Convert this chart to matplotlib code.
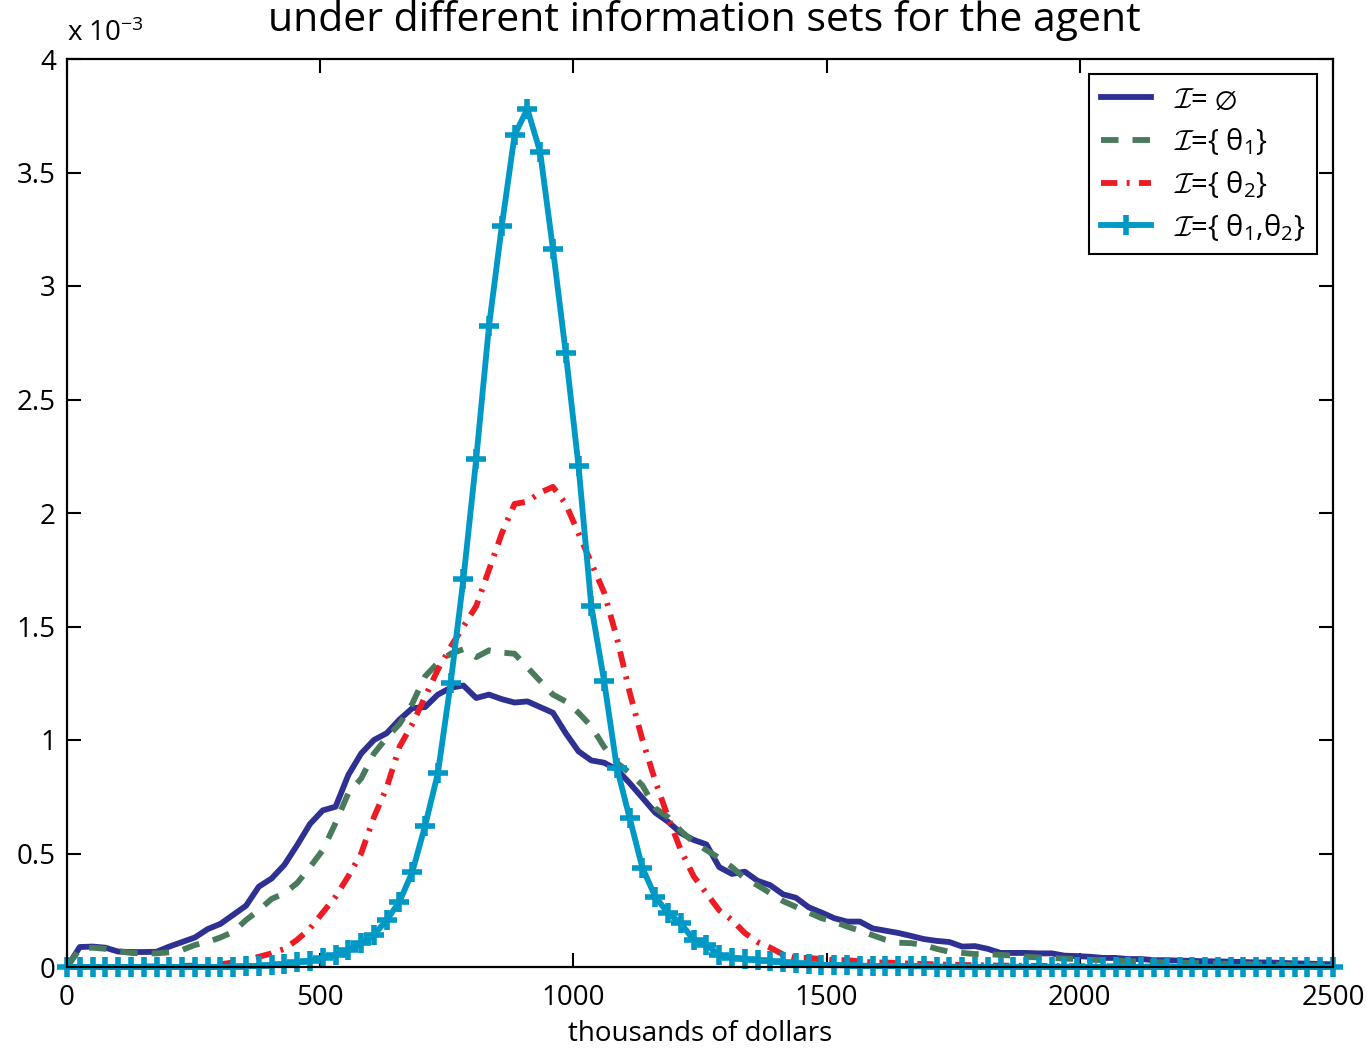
import numpy as np
import matplotlib
matplotlib.use("Agg")
from matplotlib import pyplot as plt

plt.rcParams['font.family'] = ['Open Sans', 'DejaVu Sans']
plt.rcParams['mathtext.fontset'] = 'custom'
plt.rcParams['mathtext.rm'] = 'Open Sans'
plt.rcParams['mathtext.it'] = 'Open Sans:italic'
plt.rcParams['mathtext.cal'] = 'cmsy10'
plt.rcParams['mathtext.fallback'] = 'stix'

# wealth grid (thousands of dollars), 100 points from 0 to 2500
x = np.linspace(0, 2500, 100)

# densities, in units of 1e-3
dens_none = [
    0.0, 0.088, 0.09, 0.085, 0.068, 0.066, 0.066, 0.067, 0.09, 0.11,
    0.13, 0.167, 0.19, 0.23, 0.27, 0.354, 0.39, 0.45, 0.537, 0.63,
    0.69, 0.706, 0.846, 0.94, 1.0, 1.03, 1.09, 1.14, 1.145, 1.2,
    1.23, 1.24, 1.185, 1.2, 1.18, 1.165, 1.17, 1.145, 1.12, 1.03,
    0.95, 0.91, 0.9, 0.87, 0.81, 0.745, 0.68, 0.64, 0.59, 0.56,
    0.54, 0.44, 0.41, 0.42, 0.38, 0.36, 0.32, 0.305, 0.263, 0.24,
    0.215, 0.2, 0.2, 0.17, 0.16, 0.15, 0.137, 0.123, 0.115, 0.11,
    0.09, 0.092, 0.08, 0.062, 0.062, 0.062, 0.06, 0.06, 0.05, 0.048,
    0.045, 0.04, 0.04, 0.035, 0.035, 0.03, 0.03, 0.028, 0.027, 0.025,
    0.025, 0.023, 0.022, 0.02, 0.02, 0.018, 0.016, 0.015, 0.013, 0.012,
]
dens_th1 = [
    0.0, 0.08, 0.085, 0.08, 0.07, 0.062, 0.06, 0.06, 0.065, 0.075,
    0.097, 0.11, 0.13, 0.155, 0.207, 0.25, 0.3, 0.325, 0.37, 0.44,
    0.515, 0.634, 0.766, 0.83, 0.94, 1.01, 1.07, 1.16, 1.28, 1.34,
    1.38, 1.4, 1.365, 1.395, 1.385, 1.38, 1.32, 1.26, 1.2, 1.17,
    1.12, 1.06, 0.97, 0.9, 0.855, 0.8, 0.7, 0.66, 0.6, 0.55,
    0.515, 0.48, 0.44, 0.39, 0.36, 0.325, 0.29, 0.265, 0.24, 0.215,
    0.2, 0.178, 0.16, 0.14, 0.12, 0.107, 0.105, 0.097, 0.08, 0.067,
    0.062, 0.057, 0.057, 0.053, 0.05, 0.045, 0.042, 0.04, 0.037, 0.035,
    0.032, 0.03, 0.028, 0.026, 0.024, 0.022, 0.02, 0.019, 0.018, 0.016,
    0.015, 0.014, 0.013, 0.012, 0.011, 0.01, 0.009, 0.008, 0.008, 0.007,
]
dens_th2 = [
    0.0, 0.0, 0.0, 0.0, 0.0, 0.0, 0.002, 0.003, 0.004, 0.005,
    0.006, 0.008, 0.012, 0.02, 0.03, 0.045, 0.06, 0.08, 0.12, 0.17,
    0.24, 0.31, 0.4, 0.5, 0.66, 0.79, 0.97, 1.07, 1.19, 1.31,
    1.41, 1.5, 1.59, 1.75, 1.91, 2.04, 2.05, 2.09, 2.115, 2.04,
    1.91, 1.78, 1.65, 1.45, 1.21, 1.0, 0.82, 0.66, 0.515, 0.4,
    0.325, 0.25, 0.207, 0.15, 0.11, 0.085, 0.055, 0.04, 0.04, 0.035,
    0.03, 0.03, 0.025, 0.02, 0.02, 0.017, 0.015, 0.013, 0.012, 0.01,
    0.009, 0.008, 0.007, 0.006, 0.006, 0.005, 0.005, 0.004, 0.004, 0.003,
    0.003, 0.003, 0.003, 0.002, 0.002, 0.002, 0.002, 0.002, 0.001, 0.001,
    0.001, 0.001, 0.001, 0.001, 0.0, 0.0, 0.0, 0.0, 0.0, 0.0,
]
dens_both = [
    0.0, 0.0, 0.0, 0.0, 0.0, 0.0, 0.0, 0.0, 0.0, 0.0,
    0.0, 0.0, 0.0, 0.0, 0.003, 0.005, 0.008, 0.013, 0.02, 0.028,
    0.04, 0.053, 0.075, 0.106, 0.141, 0.207, 0.288, 0.418, 0.622, 0.853,
    1.25, 1.71, 2.238, 2.824, 3.264, 3.665, 3.78, 3.59, 3.163, 2.706,
    2.207, 1.59, 1.26, 0.877, 0.656, 0.436, 0.31, 0.237, 0.193, 0.119,
    0.097, 0.053, 0.04, 0.035, 0.03, 0.025, 0.02, 0.016, 0.013, 0.01,
    0.008, 0.007, 0.006, 0.005, 0.004, 0.004, 0.003, 0.003, 0.002, 0.002,
    0.001, 0.001, 0.001, 0.001, 0.001, 0.001, 0.001, 0.001, 0.001, 0.001,
    0.0, 0.0, 0.0, 0.0, 0.0, 0.0, 0.0, 0.0, 0.0, 0.0,
    0.0, 0.0, 0.0, 0.0, 0.0, 0.0, 0.0, 0.0, 0.0, 0.0,
]

labels = [
    r'$\mathcal{I}$= $\emptyset$',
    r'$\mathcal{I}$={ $\mathrm{\theta}_1$}',
    r'$\mathcal{I}$={ $\mathrm{\theta}_2$}',
    r'$\mathcal{I}$={ $\mathrm{\theta}_1$,$\mathrm{\theta}_2$}',
]

fig = plt.figure(figsize=(13.7, 10.5), dpi=100)
ax = fig.add_axes([67 / 1370, 83 / 1050, 1266 / 1370, 908 / 1050])

lw = 4.2
ax.plot(x, dens_none, color='#2e3192', lw=lw, label=labels[0])
ax.plot(x, dens_th1, color='#4a7a5c', lw=lw, dashes=(3.0, 2.4), label=labels[1])
ax.plot(x, dens_th2, color='#ed1c24', lw=lw, dashes=(2.8, 1.6, 0.5, 1.6), label=labels[2])
ax.plot(x, dens_both, color='#0099c6', lw=lw, marker='+', ms=14, mew=4,
        clip_on=False, label=labels[3])

ax.set_xlim(0, 2500)
ax.set_ylim(0, 4)
ax.set_xticks([0, 500, 1000, 1500, 2000, 2500])
ax.set_yticks(np.arange(0, 4.01, 0.5))
ax.set_yticklabels(['%g' % v for v in np.arange(0, 4.01, 0.5)])
ax.tick_params(direction='in', length=10, width=1.5, labelsize=20,
               top=True, right=True, pad=8)
ax.tick_params(axis='x', pad=12)
for sp in ax.spines.values():
    sp.set_linewidth(1.6)

ax.text(0, 1.012, r'x 10$^{\mathrm{-3}}$', transform=ax.transAxes,
        fontsize=20, ha='left', va='bottom')
ax.set_xlabel('thousands of dollars', fontsize=20, labelpad=6)
fig.text(0.514, 1 - 31 / 1050, 'under different information sets for the agent',
         fontsize=29.5, ha='center', va='baseline')

leg = ax.legend(loc='upper right', bbox_to_anchor=(0.9874, 0.9835),
                borderaxespad=0, fontsize=21, handlelength=1.7,
                numpoints=1, labelspacing=0.4, fancybox=False,
                framealpha=1, edgecolor='black')
leg.get_frame().set_linewidth(1.5)

fig.savefig('out.png', dpi=100)
